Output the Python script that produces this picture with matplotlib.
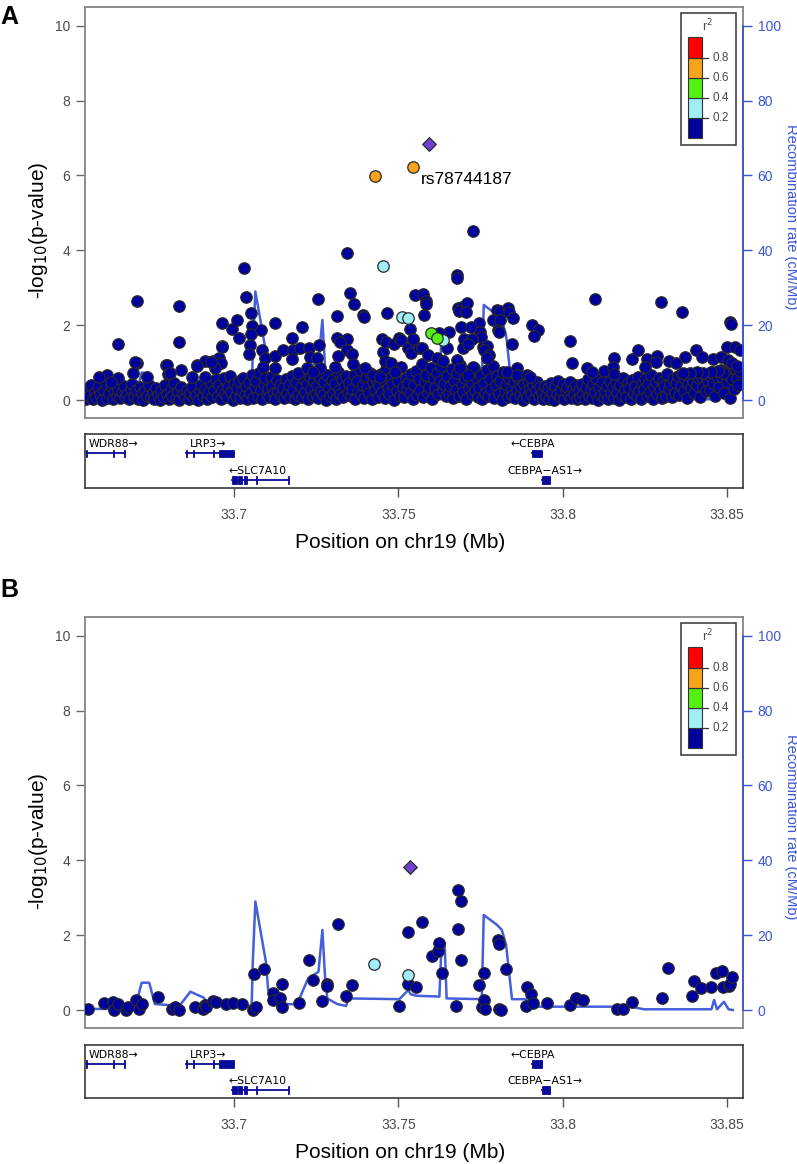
import matplotlib.pyplot as plt
from matplotlib.patches import Rectangle

plt.rcParams['font.family'] = ['Liberation Sans', 'DejaVu Sans']

# recombination rate (cM/Mb) for the region, shared by both panels
recomb_pos = [33.6545, 33.6698, 33.6719, 33.6742, 33.6759, 33.6834, 33.6867, 33.6908,
              33.6922, 33.7050, 33.7054, 33.7057, 33.7065, 33.7097, 33.7104, 33.7118,
              33.7138, 33.7192, 33.7226, 33.7257, 33.7269, 33.7277, 33.7284, 33.7314,
              33.7341, 33.7348, 33.7503, 33.7530, 33.7538, 33.7557, 33.7625, 33.7632,
              33.7641, 33.7647, 33.7754, 33.7760, 33.7801, 33.7815, 33.7828, 33.7846,
              33.7889, 33.7896, 33.8207, 33.8248, 33.8453, 33.8461, 33.8470, 33.8491,
              33.8505, 33.8518]
recomb_rate = [0.3, 0.3, 7.3, 7.3, 1.6, 1.1, 4.9, 3.3,
               1.3, 1.1, 1.8, 12.5, 29.0, 12.9, 5.3, 3.6,
               1.5, 1.6, 8.5, 10.2, 21.4, 9.0, 3.1, 1.6,
               1.1, 3.1, 2.9, 5.3, 4.2, 3.8, 3.6, 18.3,
               18.0, 3.1, 2.9, 25.4, 22.7, 21.4, 17.4, 2.9,
               2.9, 0.9, 0.9, 0.2, 0.2, 2.7, 0.2, 2.2,
               0.2, 0.0]

# ---- panel A ----
a_band_pos = [
    33.6551, 33.6556, 33.6560, 33.6565, 33.6571, 33.6576, 33.6581, 33.6587, 33.6592, 33.6598,
    33.6603, 33.6609, 33.6614, 33.6620, 33.6626, 33.6631, 33.6637, 33.6643, 33.6648,
    33.6653, 33.6658, 33.6664, 33.6669, 33.6675, 33.6680, 33.6686, 33.6691, 33.6697, 33.6702,
    33.6708, 33.6713, 33.6719, 33.6724, 33.6730, 33.6735, 33.6741, 33.6746,
    33.6752, 33.6757, 33.6763, 33.6768, 33.6774, 33.6779, 33.6785, 33.6790, 33.6796, 33.6801,
    33.6807, 33.6812, 33.6818, 33.6823, 33.6829, 33.6834, 33.6840, 33.6845,
    33.6851, 33.6856, 33.6862, 33.6867, 33.6873, 33.6878, 33.6884, 33.6889, 33.6895, 33.6900,
    33.6906, 33.6911, 33.6917, 33.6922, 33.6928, 33.6933, 33.6939, 33.6944,
    33.6951, 33.6955, 33.6960, 33.6964, 33.6969, 33.6973, 33.6978, 33.6982, 33.6987, 33.6991,
    33.6996, 33.7000, 33.7005, 33.7009, 33.7014, 33.7018, 33.7023, 33.7027, 33.7032, 33.7036,
    33.7041, 33.7045,
    33.7050, 33.7054, 33.7059, 33.7063, 33.7068, 33.7072, 33.7077, 33.7081, 33.7086, 33.7090,
    33.7095, 33.7099, 33.7104, 33.7108, 33.7113, 33.7117, 33.7122, 33.7126, 33.7131, 33.7135,
    33.7140, 33.7144,
    33.7149, 33.7153, 33.7158, 33.7162, 33.7167, 33.7171, 33.7176, 33.7180, 33.7185, 33.7189,
    33.7194, 33.7198, 33.7203, 33.7207, 33.7212, 33.7216, 33.7221, 33.7225, 33.7230, 33.7234,
    33.7239, 33.7243, 33.7248,
    33.7252, 33.7257, 33.7261, 33.7266, 33.7270, 33.7275, 33.7279, 33.7284, 33.7288, 33.7293,
    33.7297, 33.7302, 33.7306, 33.7311, 33.7315, 33.7320, 33.7324, 33.7329, 33.7333, 33.7338,
    33.7342, 33.7347,
    33.7351, 33.7356, 33.7360, 33.7365, 33.7369, 33.7374, 33.7378, 33.7383, 33.7387, 33.7392,
    33.7396, 33.7401, 33.7405, 33.7410, 33.7414, 33.7419, 33.7423, 33.7428, 33.7432, 33.7437,
    33.7441, 33.7446,
    33.7450, 33.7455, 33.7459, 33.7464, 33.7468, 33.7473, 33.7477, 33.7482, 33.7486, 33.7491,
    33.7495, 33.7500, 33.7504, 33.7509, 33.7513, 33.7518, 33.7522, 33.7527, 33.7531, 33.7536,
    33.7540, 33.7545,
    33.7549, 33.7554, 33.7558, 33.7563, 33.7567, 33.7572, 33.7576, 33.7581, 33.7585, 33.7590,
    33.7594, 33.7599, 33.7603, 33.7608, 33.7612, 33.7617, 33.7621, 33.7626, 33.7630, 33.7635,
    33.7639, 33.7644,
    33.7648, 33.7653, 33.7657, 33.7662, 33.7666, 33.7671, 33.7675, 33.7680, 33.7684, 33.7689,
    33.7693, 33.7698, 33.7702, 33.7707, 33.7711, 33.7716, 33.7720, 33.7725, 33.7729, 33.7734,
    33.7738, 33.7743,
    33.7747, 33.7752, 33.7756, 33.7761, 33.7765, 33.7770, 33.7774, 33.7779, 33.7783, 33.7788,
    33.7792, 33.7797, 33.7801, 33.7806, 33.7810, 33.7815, 33.7819, 33.7824, 33.7828, 33.7833,
    33.7837, 33.7842, 33.7846,
    33.7851, 33.7856, 33.7860, 33.7865, 33.7869, 33.7874, 33.7878, 33.7883, 33.7887, 33.7892,
    33.7896, 33.7901, 33.7905, 33.7910, 33.7914, 33.7919, 33.7923, 33.7928, 33.7932, 33.7937,
    33.7941, 33.7946,
    33.7950, 33.7955, 33.7959, 33.7964, 33.7968, 33.7973, 33.7977, 33.7982, 33.7986, 33.7991,
    33.7995, 33.8000, 33.8004, 33.8009, 33.8013, 33.8018, 33.8022, 33.8027, 33.8031, 33.8036,
    33.8040, 33.8045,
    33.8049, 33.8054, 33.8058, 33.8063, 33.8067, 33.8072, 33.8076, 33.8081, 33.8085, 33.8090,
    33.8094, 33.8099, 33.8103, 33.8108, 33.8112, 33.8117, 33.8121, 33.8126, 33.8130, 33.8135,
    33.8139, 33.8144,
    33.8148, 33.8153, 33.8157, 33.8162, 33.8166, 33.8171, 33.8175, 33.8180, 33.8184, 33.8189,
    33.8193, 33.8198, 33.8202, 33.8207, 33.8211, 33.8216, 33.8220, 33.8225, 33.8229, 33.8234,
    33.8238, 33.8243,
    33.8247, 33.8252, 33.8256, 33.8261, 33.8265, 33.8270, 33.8274, 33.8279, 33.8283, 33.8288,
    33.8292, 33.8297, 33.8301, 33.8306, 33.8310, 33.8315, 33.8319, 33.8324, 33.8328, 33.8333,
    33.8337, 33.8342,
    33.8346, 33.8351, 33.8355, 33.8360, 33.8364, 33.8369, 33.8373, 33.8378, 33.8382, 33.8387,
    33.8391, 33.8396, 33.8400, 33.8405, 33.8409, 33.8414, 33.8418, 33.8423, 33.8427, 33.8432,
    33.8436, 33.8441,
    33.8445, 33.8450, 33.8454, 33.8459, 33.8463, 33.8468, 33.8472, 33.8477, 33.8481, 33.8486,
    33.8490, 33.8495, 33.8499, 33.8504, 33.8508, 33.8513, 33.8517, 33.8522, 33.8526, 33.8531,
    33.8535, 33.8540]
a_band_logp = [
    0.04, 0.31, 0.12, 0.40, 0.02, 0.21, 0.08, 0.35, 0.15, 0.01,
    0.27, 0.44, 0.06, 0.18, 0.37, 0.03, 0.24, 0.11, 0.29,
    0.05, 0.22, 0.38, 0.09, 0.16, 0.02, 0.30, 0.43, 0.12, 0.26,
    0.04, 0.35, 0.19, 0.01, 0.28, 0.10, 0.41, 0.07,
    0.20, 0.03, 0.33, 0.14, 0.01, 0.25, 0.09, 0.39, 0.17, 0.02,
    0.29, 0.12, 0.46, 0.06, 0.23, 0.01, 0.34, 0.15,
    0.08, 0.27, 0.02, 0.18, 0.36, 0.05, 0.13, 0.01, 0.24, 0.41,
    0.10, 0.30, 0.03, 0.19, 0.47, 0.07, 0.26, 0.55,
    0.12, 0.40, 0.03, 0.28, 0.58, 0.16, 0.07, 0.35, 0.64, 0.21,
    0.01, 0.44, 0.10, 0.31, 0.52, 0.05, 0.25, 0.60, 0.14, 0.38,
    0.02, 0.48,
    0.20, 0.66, 0.06, 0.34, 0.50, 0.11, 0.72, 0.27, 0.02, 0.43,
    0.58, 0.15, 0.30, 0.08, 0.62, 0.37, 0.19, 0.04, 0.53, 0.24,
    0.40, 0.12,
    0.33, 0.05, 0.57, 0.18, 0.41, 0.09, 0.64, 0.26, 0.02, 0.48,
    0.14, 0.70, 0.36, 0.07, 0.55, 0.22, 0.44, 0.03, 0.61, 0.29,
    0.12, 0.50, 0.17,
    0.39, 0.06, 0.59, 0.24, 0.13, 0.47, 0.01, 0.68, 0.32, 0.10,
    0.53, 0.20, 0.42, 0.04, 0.75, 0.28, 0.15, 0.56, 0.08, 0.37,
    0.63, 0.19,
    0.45, 0.11, 0.30, 0.66, 0.03, 0.52, 0.23, 0.80, 0.14, 0.40,
    0.06, 0.61, 0.35, 0.18, 0.72, 0.02, 0.49, 0.27, 0.57, 0.09,
    0.38, 0.69,
    0.21, 0.54, 0.05, 0.83, 0.33, 0.16, 0.62, 0.42, 0.01, 0.74,
    0.25, 0.50, 0.12, 0.88, 0.36, 0.07, 0.58, 0.29, 0.46, 0.18,
    0.70, 0.03,
    0.40, 0.78, 0.13, 0.56, 0.27, 0.95, 0.08, 0.47, 0.66, 0.20,
    0.35, 0.85, 0.02, 0.60, 0.31, 0.73, 0.15, 0.52, 0.90, 0.24,
    0.43, 0.10,
    0.64, 0.19, 0.37, 0.82, 0.05, 0.50, 0.28, 0.71, 0.12, 0.93,
    0.41, 0.22, 0.60, 0.03, 0.77, 0.33, 0.48, 0.15, 0.86, 0.26,
    0.55, 0.09,
    0.34, 0.68, 0.02, 0.45, 0.20, 0.79, 0.11, 0.57, 0.30, 0.90,
    0.06, 0.40, 0.63, 0.17, 0.52, 0.01, 0.74, 0.25, 0.44, 0.08,
    0.60, 0.32, 0.14,
    0.48, 0.05, 0.27, 0.58, 0.13, 0.36, 0.01, 0.44, 0.22, 0.07,
    0.53, 0.30, 0.16, 0.40, 0.03, 0.25, 0.49, 0.10, 0.34, 0.19,
    0.02, 0.38,
    0.12, 0.31, 0.04, 0.45, 0.20, 0.01, 0.37, 0.15, 0.52, 0.08,
    0.28, 0.43, 0.02, 0.23, 0.35, 0.11, 0.48, 0.06, 0.30, 0.17,
    0.40, 0.03,
    0.26, 0.09, 0.44, 0.16, 0.02, 0.36, 0.55, 0.12, 0.29, 0.05,
    0.41, 0.21, 0.60, 0.01, 0.33, 0.14, 0.47, 0.07, 0.25, 0.38,
    0.03, 0.52,
    0.18, 0.34, 0.06, 0.49, 0.22, 0.01, 0.40, 0.13, 0.58, 0.27,
    0.09, 0.45, 0.31, 0.04, 0.54, 0.19, 0.37, 0.11, 0.62, 0.24,
    0.02, 0.43,
    0.30, 0.55, 0.10, 0.42, 0.21, 0.66, 0.03, 0.35, 0.48, 0.15,
    0.60, 0.26, 0.05, 0.51, 0.38, 0.12, 0.70, 0.29, 0.44, 0.07,
    0.57, 0.20,
    0.46, 0.63, 0.14, 0.37, 0.70, 0.25, 0.55, 0.06, 0.42, 0.65,
    0.31, 0.50, 0.18, 0.72, 0.40, 0.58, 0.09, 0.62, 0.34, 0.68,
    0.23, 0.52,
    0.66, 0.28, 0.74, 0.45, 0.12, 0.70, 0.58, 0.35, 0.80, 0.62,
    0.20, 0.76, 0.48, 0.68, 0.05, 0.72, 0.55, 0.30, 0.85, 0.60,
    0.40, 0.78]

a_pos = [33.7728, 33.7343, 33.7031, 33.7680, 33.7680, 33.8099, 33.8298, 33.8362, 33.8510, 33.8512,
         33.6704, 33.6833, 33.6648, 33.6833,
         33.6705, 33.6693, 33.6612, 33.6589, 33.6648, 33.6627, 33.6840, 33.6793, 33.6800, 33.6886,
         33.6871, 33.6911, 33.6912, 33.6937, 33.6955, 33.6959, 33.6942, 33.6964, 33.6962, 33.6993,
         33.7008, 33.7016, 33.7035, 33.7053, 33.7056, 33.7053, 33.7081, 33.7050, 33.7046, 33.7084,
         33.7094, 33.7089, 33.7124, 33.7124, 33.7150, 33.7124, 33.7178, 33.7180, 33.7177, 33.7208,
         33.7201, 33.7229, 33.7231, 33.7253, 33.7256, 33.7259, 33.7263, 33.7195, 33.7221, 33.7241,
         33.7314, 33.7312, 33.7343, 33.7324, 33.7343, 33.7358, 33.7317, 33.7353, 33.7365, 33.7393,
         33.7396, 33.7361, 33.7398, 33.7307, 33.7449, 33.7452, 33.7466, 33.7464, 33.7487, 33.7503,
         33.7507, 33.7535, 33.7550, 33.7545, 33.7530, 33.7540, 33.7564, 33.7459, 33.7479, 33.7490,
         33.7424, 33.7444,
         33.6699, 33.6734, 33.6795, 33.6805, 33.6887, 33.6929, 33.6963,
         33.7574, 33.7583, 33.7583, 33.7579, 33.7683, 33.7693, 33.7710, 33.7685, 33.7706, 33.7746,
         33.7690, 33.7720, 33.7749, 33.7752, 33.7700, 33.7723, 33.7696, 33.7713, 33.7757, 33.7769,
         33.7762, 33.7777, 33.7771, 33.7787, 33.7799, 33.7809, 33.7808, 33.7804, 33.7806, 33.7835,
         33.7837, 33.7848, 33.7845, 33.7830, 33.7862, 33.7862, 33.7906, 33.7926, 33.7913, 33.7891,
         33.7901, 33.8022, 33.8028, 33.8073, 33.8088, 33.8127, 33.8156, 33.8154, 33.8156, 33.8210,
         33.8230, 33.8258, 33.8251, 33.8288, 33.8284, 33.8325, 33.8344, 33.8372, 33.8405, 33.8425,
         33.8459, 33.8481, 33.8501, 33.8525, 33.8540, 33.8504, 33.8515, 33.8530, 33.7546, 33.7571,
         33.7591, 33.7619, 33.7637, 33.7649, 33.7655, 33.7625, 33.7678, 33.7688, 33.7728, 33.7713,
         33.8489, 33.8474, 33.8453, 33.8428, 33.8408, 33.8388, 33.8367]
a_logp = [4.52, 3.92, 3.52, 3.35, 3.25, 2.69, 2.62, 2.34, 2.08, 2.04,
          2.65, 2.52, 1.50, 1.56,
          0.98, 0.73, 0.67, 0.62, 0.60, 0.49, 0.80, 0.93, 0.69, 0.93,
          0.62, 0.62, 1.05, 1.05, 1.11, 1.00, 0.85, 1.44, 2.07, 1.91,
          2.14, 1.67, 2.76, 2.33, 1.98, 1.76, 1.87, 1.47, 1.23, 1.34,
          1.11, 0.89, 2.05, 1.18, 1.34, 0.85, 1.65, 1.35, 1.09, 1.96,
          1.38, 1.38, 1.14, 1.11, 2.70, 1.47, 0.85, 0.71, 0.85, 0.76,
          2.25, 1.67, 1.64, 1.56, 1.34, 1.23, 1.18, 2.85, 2.56, 2.27,
          2.21, 0.96, 0.85, 0.89, 1.63, 1.29, 2.33, 1.56, 1.50, 1.67,
          1.60, 1.91, 2.80, 1.62, 1.38, 1.25, 1.38, 1.05, 0.98, 0.76,
          0.67, 0.62,
          1.01, 0.62, 0.94, 0.71, 0.92, 1.02, 1.42,
          2.82, 2.64, 2.56, 2.27, 2.45, 2.49, 2.58, 2.39, 2.36, 2.07,
          1.94, 1.94, 1.83, 1.69, 1.63, 1.63, 1.38, 1.50, 1.42, 1.44,
          1.34, 1.20, 1.11, 2.14, 2.40, 2.39, 2.15, 1.87, 1.83, 2.45,
          2.36, 2.20, 1.51, 0.76, 0.85, 0.67, 2.00, 1.87, 1.72, 0.67,
          0.61, 1.58, 1.00, 0.86, 0.76, 0.78, 1.11, 0.89, 0.69, 1.09,
          1.35, 1.09, 0.89, 1.18, 1.02, 1.05, 0.98, 1.16, 1.34, 1.14,
          1.10, 1.14, 1.42, 1.42, 1.34, 1.07, 0.98, 0.91, 1.62, 1.38,
          1.20, 1.11, 1.05, 1.38, 1.83, 1.80, 1.07, 0.85, 0.89, 0.67,
          0.71, 0.78, 0.76, 0.71, 0.76, 0.71, 0.73]
a_cyan_pos = [33.7453, 33.7510, 33.7530, 33.7635]
a_cyan_logp = [3.59, 2.21, 2.20, 1.60]
a_green_pos = [33.7599, 33.7617]
a_green_logp = [1.78, 1.66]
a_orange_pos = [33.7429, 33.7546]
a_orange_logp = [5.99, 6.23]
a_lead_pos = [33.7594]
a_lead_logp = [6.83]

# ---- panel B ----
b_pos = [33.6556, 33.6604, 33.6631, 33.6635, 33.6648, 33.6671, 33.6678, 33.6702, 33.6712, 33.6719,
         33.6769, 33.6811, 33.6820, 33.6834, 33.6881, 33.6905, 33.6911, 33.6915, 33.6935, 33.6946,
         33.6976, 33.6996, 33.7024, 33.7057, 33.7060, 33.7066, 33.7091, 33.7119, 33.7120, 33.7141,
         33.7145, 33.7147, 33.7199, 33.7229, 33.7240, 33.7267, 33.7283, 33.7284, 33.7317, 33.7341,
         33.7360, 33.7503, 33.7528, 33.7530, 33.7555, 33.7571, 33.7604, 33.7622, 33.7625, 33.7632,
         33.7677, 33.7681, 33.7683, 33.7690, 33.7690, 33.7747, 33.7754, 33.7760, 33.7760, 33.7763,
         33.7804, 33.7805, 33.7806, 33.7812, 33.7828, 33.7889, 33.7892, 33.7903, 33.7910, 33.7953,
         33.8024, 33.8042, 33.8061, 33.8166, 33.8183, 33.8211, 33.8304, 33.8322, 33.8394, 33.8399,
         33.8421, 33.8453, 33.8467, 33.8486, 33.8488, 33.8505, 33.8509, 33.8516]
b_logp = [0.02, 0.20, 0.22, 0.00, 0.16, 0.00, 0.09, 0.27, 0.02, 0.16,
          0.36, 0.04, 0.07, 0.00, 0.07, 0.02, 0.13, 0.07, 0.24, 0.22,
          0.16, 0.18, 0.15, 0.00, 0.96, 0.09, 1.09, 0.45, 0.27, 0.31,
          0.69, 0.07, 0.18, 1.35, 0.80, 0.25, 0.69, 0.64, 2.29, 0.38,
          0.67, 0.11, 2.09, 0.70, 0.61, 2.36, 1.44, 1.59, 1.78, 0.98,
          0.11, 3.20, 2.16, 2.91, 1.34, 0.67, 0.07, 0.98, 0.27, 0.02,
          1.87, 1.76, 0.02, 0.00, 1.09, 0.11, 0.61, 0.42, 0.18, 0.20,
          0.13, 0.31, 0.27, 0.04, 0.02, 0.22, 0.33, 1.11, 0.37, 0.78,
          0.60, 0.62, 0.98, 1.05, 0.61, 0.64, 0.69, 0.89]
b_cyan_pos = [33.7425, 33.7530]
b_cyan_logp = [1.22, 0.94]
b_lead_pos = [33.7537]
b_lead_logp = [3.83]

# ---- genes ----
gene_names = ['WDR88', 'LRP3', 'SLC7A10', 'CEBPA', 'CEBPA\u2212AS1']
gene_start = [33.6550, 33.6854, 33.6995, 33.7907, 33.7936]
gene_end = [33.6668, 33.7000, 33.7166, 33.7936, 33.7963]
gene_strand = ['+', '+', '-', '-', '+']
gene_row = [0, 0, 1, 0, 1]
gene_label_x = [33.6559, 33.6867, 33.6983, 33.7842, 33.7832]
gene_exons = [[(33.6550, 33.6554), (33.6632, 33.6636), (33.6665, 33.6669)],
              [(33.6854, 33.6858), (33.6874, 33.6878), (33.6936, 33.6940), (33.6954, 33.7000)],
              [(33.6995, 33.7008), (33.7013, 33.7025), (33.7029, 33.7041), (33.7066, 33.7070),
               (33.7163, 33.7167)],
              [(33.7907, 33.7936)],
              [(33.7936, 33.7963)]]

r2_colors = ['#00009c', '#a0eef8', '#55ee15', '#f7a31c', '#ff0000']
r2_ticks = ['0.2', '0.4', '0.6', '0.8']

XLIM = (33.6545, 33.8549)
DOT = dict(s=68, edgecolors='#2a2a2a', linewidths=0.9)
GRAY = '#4a4a4a'
BLUE = '#3b55d8'
GENE = '#0a0a9a'

W, H = 797, 1164
fig = plt.figure(figsize=(W / 100, H / 100), dpi=100)


def fy(py):
    return 1 - py / H


def assoc_panel(top, sets, lead, label=None):
    ax = fig.add_axes([84.5 / W, fy(top + 411), 658.5 / W, 411 / H])
    ax2 = ax.twinx()
    ax.set_xlim(XLIM)
    ax.set_ylim(-0.48, 10.5)
    ax2.set_ylim(-4.8, 105)
    ax.set_xticks([])
    ax.set_yticks(range(0, 11, 2))
    ax.tick_params(axis='y', length=6.5, width=1, color='#666666', labelcolor=GRAY,
                   labelsize=10, pad=4)
    for s in ax.spines.values():
        s.set_color('#858585')
        s.set_linewidth(1.3)
    for s in ['top', 'bottom', 'left']:
        ax2.spines[s].set_visible(False)
    ax2.spines['right'].set_color(BLUE)
    ax2.spines['right'].set_linewidth(1.3)
    ax2.spines['right'].set_bounds(0, 100)
    ax2.set_yticks(range(0, 101, 20))
    ax2.tick_params(axis='y', length=6.5, width=1, color=BLUE, labelcolor=BLUE,
                    labelsize=10, pad=4)

    # recombination line sits under the points
    ax.plot(recomb_pos, recomb_rate, color=BLUE, lw=1.8, alpha=0.95,
            transform=ax2.transData, zorder=1)
    for (px, py), col in sets:
        ax.scatter(px, py, c=col, zorder=3, **DOT)
    ax.scatter(lead[0], lead[1], marker='D', s=48, c='#7040d0', edgecolors='#2a2a2a',
               linewidths=0.9, zorder=4)
    if label:
        ax.text(label[0], label[1], label[2], fontsize=12.5, ha='left', va='center', zorder=5)

    # r2 legend box
    ax.add_patch(Rectangle((33.8360, 6.81), 0.0169, 3.53, facecolor='white',
                           edgecolor='#444444', lw=1.2, zorder=6))
    bounds = [6.99, 7.53, 8.08, 8.61, 9.15, 9.71]
    for i, col in enumerate(r2_colors):
        ax.add_patch(Rectangle((33.8382, bounds[i]), 0.0042, bounds[i + 1] - bounds[i],
                               facecolor=col, edgecolor='#333333', lw=0.8, zorder=7))
    for i, t in enumerate(r2_ticks):
        y = bounds[i + 1]
        ax.plot([33.8424, 33.8443], [y, y], color='#333333', lw=0.9, zorder=7)
        ax.text(33.8456, y, t, fontsize=8.5, color=GRAY, ha='left', va='center', zorder=7)
    ax.text(33.8442, 9.99, 'r$^2$', fontsize=9, color=GRAY, ha='center', va='center', zorder=7)
    return ax


def gene_panel(top, height):
    ax = fig.add_axes([84.5 / W, fy(top + height), 658.5 / W, height / H])
    ax.set_xlim(XLIM)
    ax.set_ylim(0, 1)
    ax.set_yticks([])
    ax.set_xticks([33.7, 33.75, 33.8, 33.85])
    ax.set_xticklabels(['33.7', '33.75', '33.8', '33.85'])
    ax.tick_params(axis='x', length=6.5, width=1, color='#555555', labelcolor=GRAY,
                   labelsize=10, pad=8)
    for s in ax.spines.values():
        s.set_color('#3a3a3a')
        s.set_linewidth(1.2)
    row_y = [0.64, 0.15]
    for name, s, e, strand, row, lx, exons in zip(gene_names, gene_start, gene_end,
                                                  gene_strand, gene_row, gene_label_x,
                                                  gene_exons):
        y = row_y[row]
        ax.plot([s, e], [y, y], color=GENE, lw=1.3)
        for xs, xe in exons:
            ax.add_patch(Rectangle((xs, y - 0.07), xe - xs, 0.14, facecolor=GENE,
                                   edgecolor=GENE, lw=0.6))
        txt = name + '\u2192' if strand == '+' else '\u2190' + name
        ax.text(lx, y + 0.17, txt, fontsize=7.8, ha='left', va='center',
                family=['DejaVu Sans'])
    return ax


# panel A
assoc_panel(7, [((a_band_pos, a_band_logp), r2_colors[0]),
                ((a_pos, a_logp), r2_colors[0]),
                ((a_cyan_pos, a_cyan_logp), r2_colors[1]),
                ((a_green_pos, a_green_logp), r2_colors[2]),
                ((a_orange_pos, a_orange_logp), r2_colors[3])],
            (a_lead_pos, a_lead_logp), label=(33.7568, 5.90, 'rs78744187'))
gene_panel(434, 54)

# panel B
assoc_panel(617, [((b_pos, b_logp), r2_colors[0]),
                  ((b_cyan_pos, b_cyan_logp), r2_colors[1])],
            (b_lead_pos, b_lead_logp))
gene_panel(1045, 53)

for ycen, xl_y, letter_y in [(230, 542, 5), (841, 1152, 578)]:
    fig.text(39 / W, fy(ycen), '-log$_{10}$(p-value)', rotation=90, fontsize=15,
             ha='center', va='center')
    fig.text(400 / W, fy(xl_y), 'Position on chr19 (Mb)', fontsize=15, ha='center',
             va='center')
    fig.text(0.001, fy(letter_y), 'AB'[letter_y > 100], fontsize=18, fontweight='bold',
             ha='left', va='top')
for ycen in [217, 827]:
    fig.text(791 / W, fy(ycen), 'Recombination rate (cM/Mb)', rotation=270, fontsize=10.5,
             color=BLUE, ha='center', va='center')

fig.savefig('out.png', dpi=100)
